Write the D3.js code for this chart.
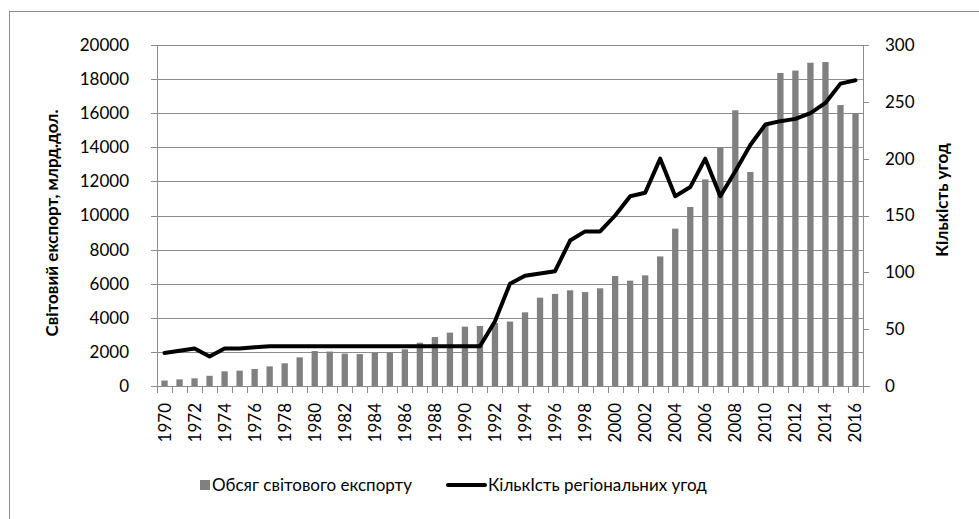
<!DOCTYPE html>
<meta charset="utf-8">
<style>
body { margin: 0; background: #fff; font-family: Lato, "Open Sans", sans-serif; }
.grid line { stroke: #8c8c8c; stroke-width: 1; shape-rendering: crispEdges; }
.axis path, .axis line { stroke: #8c8c8c; fill: none; shape-rendering: crispEdges; }
.axis text { font-family: Lato, sans-serif; font-size: 17px; fill: #000; }
.title { font-family: Lato, sans-serif; font-size: 17px; font-weight: bold; }
.legend text { font-family: Lato, sans-serif; font-size: 17px; }
</style>
<script src="https://d3js.org/d3.v7.min.js"></script>
<body>
<div id="chart"></div>
<script>
// years on the x axis
var years = d3.range(1970, 2017);
// world export volume, bn USD (left axis)
var exports = [320, 390, 450, 600, 860, 900, 1000, 1150, 1330, 1680,
  2050, 2020, 1900, 1870, 1960, 1960, 2150, 2540, 2870, 3130,
  3480, 3520, 3700, 3780, 4320, 5180, 5400, 5610, 5510, 5730,
  6450, 6180, 6490, 7600, 9230, 10500, 12120, 14000, 16170, 12550,
  15310, 18360, 18500, 18960, 19000, 16480, 16000];
// number of regional agreements (right axis)
var agreements = [29, 31, 33, 26, 33, 33, 34, 35, 35, 35,
  35, 35, 35, 35, 35, 35, 35, 35, 35, 35,
  35, 35, 57, 90, 97, 99, 101, 128, 136, 136,
  150, 167, 170, 200, 167, 175, 200, 167, 189, 212,
  230, 233, 235, 240, 249, 266, 269];
var leftTicks = d3.range(0, 20001, 2000);
var rightTicks = d3.range(0, 301, 50);

var W = 979, H = 519;
var margin = {top: 45, left: 157, right: 116, bottom: 133};
var width = W - margin.left - margin.right,
    height = H - margin.top - margin.bottom;

var svg = d3.select("#chart").append("svg")
    .attr("width", W)
    .attr("height", H);

// outer frame
svg.append("rect")
  .attr("x", 9.5).attr("y", 11.5)
  .attr("width", W + 20).attr("height", H + 20)
  .attr("fill", "none").attr("stroke", "#8c8c8c");

var g = svg.append("g")
  .attr("transform", "translate(" + margin.left + "," + margin.top + ")");

var x = d3.scaleBand().domain(years).range([0, width]).paddingInner(0.58).paddingOuter(0.29);
var xb = d3.scaleBand().domain(years).range([0, width]);
var y = d3.scaleLinear().domain([0, 20000]).range([height, 0]);
var y2 = d3.scaleLinear().domain([0, 300]).range([height, 0]);

// gridlines
g.append("g").attr("class", "grid")
  .selectAll("line").data(leftTicks.slice(1)).enter().append("line")
  .attr("x1", 0).attr("x2", width)
  .attr("y1", function(d) { return Math.round(y(d)) + 0.5; })
  .attr("y2", function(d) { return Math.round(y(d)) + 0.5; });

// bars
g.append("g").selectAll("rect").data(years).enter().append("rect")
  .attr("x", function(d) { return x(d); })
  .attr("width", x.bandwidth())
  .attr("y", function(d, i) { return y(exports[i]); })
  .attr("height", function(d, i) { return height - y(exports[i]); })
  .attr("fill", "#808080");

// left axis
g.append("g").attr("class", "axis")
  .call(d3.axisLeft(y).tickValues(leftTicks).tickFormat(d3.format("d"))
    .tickSize(6).tickSizeOuter(0).tickPadding(22));

// right axis
g.append("g").attr("class", "axis")
  .attr("transform", "translate(" + width + ",0)")
  .call(d3.axisRight(y2).tickValues(rightTicks).tickFormat(d3.format("d"))
    .tickSize(6).tickSizeOuter(0).tickPadding(16));

// bottom axis: a tick at each band edge, a label every two years
var xAxis = g.append("g").attr("class", "axis")
  .attr("transform", "translate(0," + height + ")");
xAxis.append("line").attr("x1", -6).attr("x2", width + 7).attr("y1", 0.5).attr("y2", 0.5);
xAxis.selectAll(".tk").data(years.concat([2017])).enter().append("line")
  .attr("class", "tk")
  .attr("x1", function(d) { return Math.round(d === 2017 ? width : xb(d)) + 0.5; })
  .attr("x2", function(d) { return Math.round(d === 2017 ? width : xb(d)) + 0.5; })
  .attr("y1", 0).attr("y2", 7);
xAxis.selectAll("text").data(years.filter(function(d) { return d % 2 === 0; })).enter().append("text")
  .attr("transform", function(d) { return "translate(" + (xb(d) + xb.bandwidth() / 2 + 6) + ",17) rotate(-90)"; })
  .attr("text-anchor", "end")
  .text(function(d) { return d; });

// agreements line
g.append("path")
  .datum(years)
  .attr("fill", "none")
  .attr("stroke", "#000")
  .attr("stroke-width", 4)
  .attr("stroke-linejoin", "round")
  .attr("stroke-linecap", "round")
  .attr("d", d3.line()
    .x(function(d) { return xb(d) + xb.bandwidth() / 2; })
    .y(function(d, i) { return y2(agreements[i]); }));

// axis titles
svg.append("text").attr("class", "title")
  .attr("transform", "translate(58,223) rotate(-90)")
  .attr("text-anchor", "middle")
  .text("Світовий експорт, млрд.дол.");
svg.append("text").attr("class", "title")
  .attr("transform", "translate(948,200) rotate(-90)")
  .attr("text-anchor", "middle")
  .text("Кількість угод");

// legend
var lg = svg.append("g").attr("class", "legend");
lg.append("rect").attr("x", 200).attr("y", 480).attr("width", 10).attr("height", 10).attr("fill", "#808080");
lg.append("text").attr("x", 212).attr("y", 491).text("Обсяг світового експорту");
lg.append("line").attr("x1", 448).attr("x2", 485).attr("y1", 485).attr("y2", 485)
  .attr("stroke", "#000").attr("stroke-width", 4).attr("stroke-linecap", "round");
lg.append("text").attr("x", 488).attr("y", 491).text("КількІсть регіональних угод");
</script>
</body>
